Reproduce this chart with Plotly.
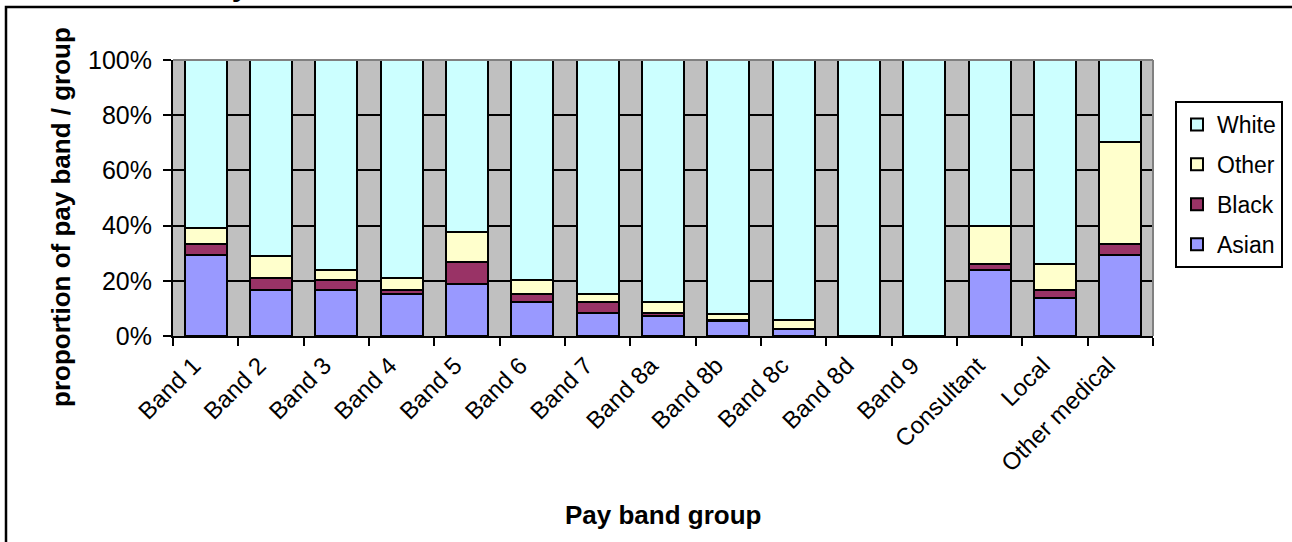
import plotly.graph_objects as go

# Pay band groups along the x axis
bands = ["Band 1", "Band 2", "Band 3", "Band 4", "Band 5", "Band 6", "Band 7",
         "Band 8a", "Band 8b", "Band 8c", "Band 8d", "Band 9",
         "Consultant", "Local", "Other medical"]

# Share of each pay band / group by ethnicity (%)
asian = [29.5, 16.6, 16.6, 15.1, 18.8, 12.2, 8.5, 7.1, 5.5, 2.5, 0.0, 0.0, 23.8, 13.8, 29.5]
black = [3.8, 4.3, 3.7, 1.5, 8.0, 2.9, 3.7, 1.2, 0.4, 0.0, 0.0, 0.0, 2.2, 3.0, 3.8]
other = [5.8, 8.1, 3.6, 4.4, 10.9, 5.1, 3.2, 3.9, 2.0, 3.2, 0.0, 0.0, 13.8, 9.2, 37.0]
white = [60.9, 71.0, 76.1, 79.0, 62.3, 79.8, 84.6, 87.8, 92.1, 94.3, 100.0, 100.0, 60.2, 74.0, 29.7]

W, H = 1292, 542
L, R, T, B = 173, 139, 60, 206
FONT = "Liberation Sans, Arial, sans-serif"

# stacking order bottom-up; legend lists them top-down (White first)
series = [
    ("Asian", asian, "#9999FF", 4),
    ("Black", black, "#993366", 3),
    ("Other", other, "#FFFFCC", 2),
    ("White", white, "#CCFFFF", 1),
]

fig = go.Figure()
for name, vals, color, rank in series:
    fig.add_trace(go.Bar(
        x=bands, y=[v / 100 for v in vals], name=name, legendgroup=name,
        legendrank=rank,
        marker=dict(color=color, line=dict(color="black", width=2)),
    ))

pw = W - L - R
ph = H - T - B


def px_x(p):
    return (p - L) / pw


def px_y(p):
    return (H - B - p) / ph


fig.update_layout(
    width=W, height=H,
    margin=dict(l=L, r=R, t=T, b=B, autoexpand=False),
    barmode="stack", bargap=0.36,
    paper_bgcolor="white", plot_bgcolor="#C0C0C0",
    font=dict(family=FONT, size=24, color="black"),
    showlegend=True,
    legend=dict(
        traceorder="grouped", tracegroupgap=7,
        x=px_x(1175), xanchor="left", y=px_y(101), yanchor="top",
        bgcolor="white", bordercolor="black", borderwidth=2,
        font=dict(size=23), itemwidth=30,
    ),
    xaxis=dict(
        showline=True, linecolor="black", linewidth=2,
        ticks="outside", ticklen=8, tickwidth=2, tickcolor="black",
        tickson="boundaries", tickangle=-45, showgrid=False,
        tickfont=dict(size=24), ticklabelshift=-12, ticklabelstandoff=4,
    ),
    yaxis=dict(
        range=[0, 1], dtick=0.2, tickformat=".0%",
        showline=True, linecolor="black", linewidth=2,
        ticks="outside", ticklen=8, tickwidth=2, tickcolor="black",
        showgrid=True, gridcolor="black", gridwidth=2,
        zeroline=False, tickfont=dict(size=25), ticklabelstandoff=6,
    ),
    annotations=[
        dict(text="<b>Pay band group</b>", xref="paper", yref="paper",
             x=0.5, y=px_y(515), xanchor="center", yanchor="middle",
             showarrow=False, font=dict(size=26)),
        dict(text="<b>proportion of pay band / group</b>", xref="paper", yref="paper",
             x=px_x(61), y=px_y(217), xanchor="center", yanchor="middle",
             textangle=-90, showarrow=False, font=dict(size=26)),
        dict(text="<b>Chart 4: Ethnicity</b>", xref="paper", yref="paper",
             x=px_x(-2), y=px_y(4), xanchor="left", yanchor="bottom",
             showarrow=False, font=dict(size=30)),
    ],
    shapes=[
        # outer chart frame, running past the right and bottom edges
        dict(type="rect", xref="paper", yref="paper",
             x0=px_x(6), x1=px_x(W + 20), y0=px_y(H + 20), y1=px_y(7),
             line=dict(color="black", width=2.5), fillcolor="rgba(0,0,0,0)",
             layer="above"),
        # plot area border
        dict(type="line", xref="paper", yref="paper", x0=0, x1=1, y0=1, y1=1,
             line=dict(color="#808080", width=2), layer="above"),
        dict(type="line", xref="paper", yref="paper", x0=1, x1=1, y0=0, y1=1,
             line=dict(color="#808080", width=2), layer="above"),
    ],
)

fig.write_html("out.html")
